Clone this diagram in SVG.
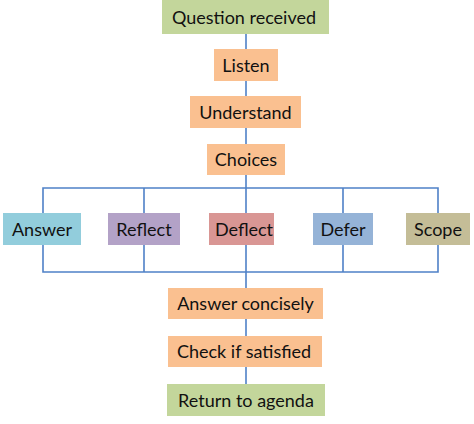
<svg xmlns="http://www.w3.org/2000/svg" width="474" height="424" viewBox="0 0 474 424">
<style>
text{font-family:Lato,"Liberation Sans",Arial,sans-serif;font-size:18px;fill:#111;text-anchor:middle;dominant-baseline:central}
.c{fill:none;stroke:#4f81c7;stroke-width:1.6}
.g{fill:#c3d69b}.o{fill:#fac090}
</style>
<rect width="474" height="424" fill="#fff"/>
<g id="connectors">
<line class="c" x1="246" y1="34" x2="246" y2="384"/>
<path class="c" d="M43,213 V188 H438 V213 M144,188 V213 M343,188 V213"/>
<path class="c" d="M43,245 V272 H438 V245 M144,245 V272 M343,245 V272"/>
</g>
<g id="question"><rect class="g" x="162" y="0" width="167" height="34"/><text x="244" y="16.5">Question received</text></g>
<g id="listen"><rect class="o" x="214" y="49" width="64" height="32"/><text x="246" y="64.5">Listen</text></g>
<g id="understand"><rect class="o" x="190" y="96" width="111" height="32"/><text x="245.5" y="111.5">Understand</text></g>
<g id="choices"><rect class="o" x="207" y="144" width="78" height="31"/><text x="246" y="159">Choices</text></g>
<g id="answer"><rect fill="#92cddc" x="3" y="213" width="78" height="32"/><text x="42" y="228.5">Answer</text></g>
<g id="reflect"><rect fill="#b3a2c7" x="108" y="213" width="72" height="32"/><text x="144" y="228.5">Reflect</text></g>
<g id="deflect"><rect fill="#d99694" x="209" y="213" width="65" height="32"/><text x="244" y="228.5">Deflect</text></g>
<g id="defer"><rect fill="#95b3d7" x="313" y="213" width="60" height="32"/><text x="343" y="228.5">Defer</text></g>
<g id="scope"><rect fill="#c4bd97" x="406" y="213" width="64" height="32"/><text x="438" y="228.5">Scope</text></g>
<g id="concise"><rect class="o" x="168" y="288" width="155" height="31"/><text x="245.5" y="303">Answer concisely</text></g>
<g id="check"><rect class="o" x="168" y="336" width="154" height="31"/><text x="244" y="351">Check if satisfied</text></g>
<g id="return"><rect class="g" x="167" y="384" width="158" height="32"/><text x="246" y="399.5">Return to agenda</text></g>
</svg>
